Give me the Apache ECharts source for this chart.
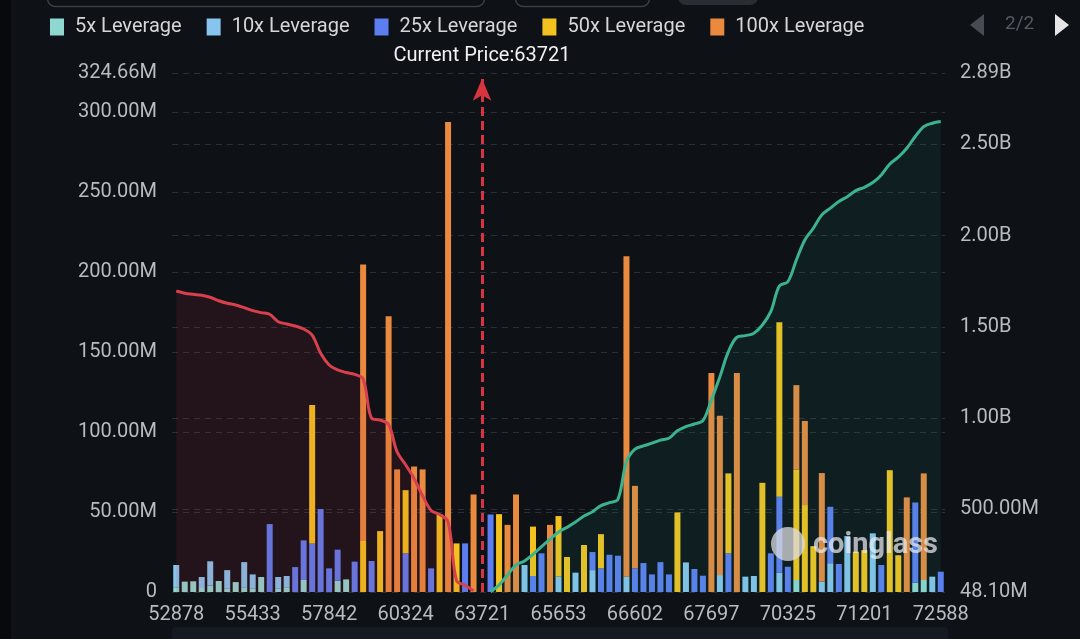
<!DOCTYPE html>
<html>
<head>
<meta charset="utf-8">
<title>Liquidation Map</title>
<script src="https://cdn.jsdelivr.net/npm/echarts@6/dist/echarts.min.js"></script>
<style>
  html, body { margin: 0; padding: 0; background: #0e1116; }
  #chart { width: 1080px; height: 639px; }
</style>
</head>
<body>
<div id="chart"></div>
<script>
// x axis: 91 price bins, a label on every 9th one
var priceTicks = ['52878', '55433', '57842', '60324', '63721', '65653', '66602', '67697', '70325', '71201', '72588'];
var tickStep = 9;
var currentPrice = '63721';

// liquidation amount per bin (millions)
var lev5 = [3, 6.5, 6.7, 2.5, 4, 6.9, 2, 6.2, 3, 2, 9.4, 0, 2, 3, 0, 7.5, 0, 0, 0, 7, 7.9, 0, 0, 0, 0, 0, 0, 0, 0, 0, 0, 0, 0, 0, 0, 0, 0,
  0, 0, 0, 0, 0, 0, 0, 0, 0, 0, 0, 0, 0, 0, 0, 0, 0, 0, 0, 0, 0, 0, 0, 0, 0, 0, 0, 0, 0, 0, 0, 0, 0, 0, 0, 0, 7.5, 0, 0, 0, 0, 0, 0, 0, 0, 0, 0, 0, 0, 0, 5.8, 7.5, 0, 0];
var lev10 = [13.9, 0, 0, 6.9, 15.2, 0, 11.7, 0, 15.7, 9, 0, 0, 7.4, 7, 0, 0, 0, 0, 0, 0, 0, 0, 0, 0, 0, 0, 0, 0, 0, 0, 0, 0, 0, 0, 0, 0, 0,
  0, 0, 0, 0, 16.9, 0, 0, 0, 9.6, 0, 12.1, 0, 13.7, 0, 0, 0, 9.6, 0, 0, 0, 0, 0, 0, 18.5, 0, 0, 0, 10.6, 0, 0, 9.6, 10, 0, 0, 12, 0, 0, 0, 0, 6.5, 18, 0, 35, 0, 0, 36.7, 0, 0, 0, 0, 0, 0, 9.6, 0];
var lev25 = [0, 0, 0, 0, 0, 0, 0, 0, 0, 0, 0, 42.5, 0, 0, 15.6, 24.8, 30.4, 51.9, 14.8, 19.5, 0, 19, 0, 19.4, 0, 0, 0, 24.2, 0, 0, 14.8, 0, 0, 0, 30.4, 0, 0,
  48.5, 0, 0, 0, 0, 10, 24.2, 0, 0, 0, 0, 0, 11.3, 14.8, 23.3, 22.7, 0, 14.8, 18.1, 11, 18.7, 11, 0, 0, 14.4, 10.2, 0, 0, 24.2, 0, 0, 0, 0, 24.2, 47.6, 15.8, 0, 0, 0, 0, 35.3, 17.5, 0, 0, 0, 0, 16.9, 0, 0, 0, 50.2, 0, 0, 12.7];
var lev50 = [0, 0, 0, 0, 0, 0, 0, 0, 0, 0, 0, 0, 0, 0, 0, 0, 86.6, 0, 0, 0, 0, 0, 31.9, 0, 38.1, 0, 0, 39.5, 0, 0, 0, 48.7, 0, 30.4, 0, 0, 0,
  0, 48.7, 0, 0, 0, 30.9, 0, 0, 37.9, 21.9, 0, 29.4, 0, 21.4, 0, 0, 0, 0, 0, 0, 0, 0, 49.8, 0, 0, 0, 0, 0, 50, 0, 0, 0, 68.3, 0, 109.2, 0, 69.2, 54.4, 28.7, 0, 0, 0, 0, 25.2, 26.2, 0, 0, 76.2, 23, 0, 0, 0, 0, 0];
var lev100 = [0, 0, 0, 0, 0, 0, 0, 0, 0, 0, 0, 0, 0, 0, 0, 0, 0, 0, 0, 0, 0, 0, 173, 0, 0, 172.5, 76.7, 0, 78.5, 76.7, 0, 0, 294, 0, 0, 61, 0,
  0, 0, 42, 61, 0, 0, 0, 42, 0, 0, 0, 0, 0, 0, 0, 0, 200.4, 51.6, 0, 0, 0, 0, 0, 0, 0, 0, 137, 99.6, 0, 137, 0, 0, 0, 0, 0, 0, 52.7, 52.6, 0, 67.9, 0, 0, 0, 0, 0, 0, 0, 0, 0, 59.2, 0, 66.7, 0, 0];

// cumulative liquidation (millions), below and above current price
var shortCum = [1696, 1684, 1678, 1673, 1662, 1643, 1629, 1620, 1605, 1589, 1578, 1569, 1528, 1516, 1505, 1488, 1455, 1355, 1291, 1264,
  1250, 1240, 1215, 1000, 990, 965, 815, 745, 670, 575, 495, 472, 433, 110, 85, 55];
var longCum = [50, 86, 141, 196, 218, 254, 296, 337, 377, 402, 431, 464, 488, 521, 537, 556, 762, 830, 848, 863,
  880, 890, 931, 954, 968, 986, 1100, 1227, 1364, 1443, 1452, 1465, 1510, 1585, 1724, 1747, 1866, 1976, 2040, 2113,
  2150, 2186, 2213, 2246, 2264, 2290, 2332, 2392, 2429, 2478, 2542, 2596, 2615, 2624];

var binCount = lev5.length;
var currentIdx = priceTicks.indexOf(currentPrice) * tickStep;
var bins = [];
for (var i = 0; i < binCount; i++) bins.push(String(i));

var shortLine = shortCum.concat(new Array(binCount - shortCum.length).fill(null));
var longLine = new Array(binCount - longCum.length).fill(null).concat(longCum);

var FONT = 'Roboto, "Noto Sans", sans-serif';
var labelColor = '#b8bbc1';

function fmtLeft(v) {
  if (v === 0) return '0';
  return v.toFixed(2) + 'M';
}
function fmtRight(v) {
  if (v >= 1000) return (v / 1000).toFixed(2) + 'B';
  return v.toFixed(2) + 'M';
}

function barSeries(name, data, color) {
  return {
    name: name,
    type: 'bar',
    stack: 'liq',
    barWidth: 6,
    data: data,
    itemStyle: { color: color },
    z: 2
  };
}

var chart = echarts.init(document.getElementById('chart'), null, { renderer: 'canvas' });

var series = [
  barSeries('5x Leverage', lev5, '#8fd8d2'),
  barSeries('10x Leverage', lev10, '#87c5ee'),
  barSeries('25x Leverage', lev25, '#5d7ef0'),
  barSeries('50x Leverage', lev50, '#f4c21e'),
  barSeries('100x Leverage', lev100, '#e98a3e'),
  {
    name: 'Cumulative Short',
    type: 'line',
    yAxisIndex: 1,
    data: shortLine,
    showSymbol: false,
    smooth: 0.35,
    lineStyle: { color: '#d8404d', width: 3 },
    areaStyle: { color: 'rgba(190,40,60,0.17)', origin: 'start' },
    z: 3
  },
  {
    name: 'Cumulative Long',
    type: 'line',
    yAxisIndex: 1,
    data: longLine,
    showSymbol: false,
    smooth: 0.35,
    lineStyle: { color: '#3bb38f', width: 3 },
    areaStyle: { color: 'rgba(40,170,150,0.12)', origin: 'start' },
    z: 3
  }
];

// current price marker
series[4].markLine = {
  silent: true,
  symbol: ['none', 'arrow'],
  symbolSize: [14, 22],
  lineStyle: { color: '#d6343f', width: 3, type: [9, 5] },
  label: {
    show: true,
    position: 'end',
    distance: 13,
    formatter: 'Current Price:' + currentPrice,
    color: '#f2f2f2',
    fontSize: 20,
    fontFamily: FONT
  },
  data: [[{ xAxis: currentIdx, yAxis: 0 }, { xAxis: currentIdx, yAxis: 321 }]]
};

chart.setOption({
  backgroundColor: '#0e1116',
  animation: false,
  textStyle: { fontFamily: FONT },
  legend: {
    data: ['5x Leverage', '10x Leverage', '25x Leverage', '50x Leverage', '100x Leverage'],
    left: 45,
    top: 12,
    icon: 'rect',
    itemWidth: 14,
    itemHeight: 17,
    itemGap: 25,
    textStyle: { color: '#d6d6d6', fontSize: 20, fontFamily: FONT, padding: [0, 0, 0, 6] }
  },
  grid: { left: 172, right: 135, top: 73, bottom: 47 },
  xAxis: {
    type: 'category',
    data: bins,
    boundaryGap: true,
    axisTick: { show: false },
    axisLine: { show: false },
    axisLabel: {
      interval: tickStep - 1,
      color: labelColor,
      fontSize: 20,
      margin: 13,
      formatter: function (v, idx) {
        return idx % tickStep === 0 ? priceTicks[idx / tickStep] : '';
      }
    }
  },
  yAxis: [
    {
      type: 'value',
      min: 0,
      max: 324.66,
      interval: 50,
      axisLine: { show: false },
      axisTick: { show: false },
      axisLabel: { color: labelColor, fontSize: 20, margin: 15, formatter: fmtLeft },
      splitLine: { lineStyle: { color: '#2b2f37', type: [6, 5] } }
    },
    {
      type: 'value',
      position: 'right',
      min: 48.1,
      max: 2890,
      splitNumber: 5,
      axisLine: { show: false },
      axisTick: { show: false },
      axisLabel: { color: labelColor, fontSize: 20, margin: 15, formatter: fmtRight },
      splitLine: { lineStyle: { color: '#2b2f37', type: [6, 5] } }
    }
  ],
  graphic: [
    // bits of the page around the chart
    { type: 'rect', left: 0, top: 0, shape: { width: 11, height: 639 }, style: { fill: '#08090c' } },
    { type: 'rect', left: 45, top: -34, shape: { x: 0, y: 0, width: 437, height: 38, r: 8 }, style: { fill: 'none', stroke: '#3a3e45', lineWidth: 1.5 } },
    { type: 'rect', left: 513, top: -34, shape: { x: 0, y: 0, width: 134, height: 38, r: 8 }, style: { fill: 'none', stroke: '#3a3e45', lineWidth: 1.5 } },
    { type: 'rect', left: 678, top: -34, shape: { x: 0, y: 0, width: 80, height: 39, r: 8 }, style: { fill: '#2a2d33' } },
    { type: 'rect', left: 172, top: 627, shape: { x: 0, y: 0, width: 776, height: 20, r: 4 }, style: { fill: '#151a22' } },
    // legend pager
    { type: 'polygon', left: 970, top: 14, shape: { points: [[14, 0], [14, 22], [0, 11]] }, style: { fill: '#474b52' } },
    { type: 'text', left: 1005, top: 15, style: { text: '2/2', fill: '#555a62', fontSize: 19, fontFamily: FONT } },
    { type: 'polygon', left: 1055, top: 14, shape: { points: [[0, 0], [14, 11], [0, 22]] }, style: { fill: '#e6e6e6' } },
    // watermark
    { type: 'circle', left: 771, top: 527, shape: { r: 17 }, style: { fill: 'rgba(220,220,226,0.75)' }, z: 100 },
    { type: 'text', left: 813, top: 531, style: { text: 'coinglass', fill: 'rgba(235,235,240,0.72)', fontSize: 29, fontWeight: 'bold', fontFamily: FONT }, z: 100 }
  ],
  series: series
});
</script>
</body>
</html>
